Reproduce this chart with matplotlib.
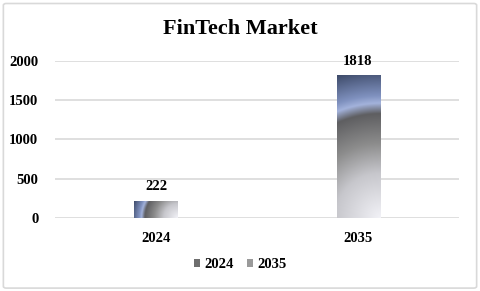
import numpy as np
from matplotlib import pyplot as plt, rcParams
from matplotlib.patches import Patch, FancyBboxPatch

rcParams['font.family'] = ['Liberation Serif', 'DejaVu Serif']
rcParams['font.weight'] = 'bold'

# 数据
categories = ['2024', '2035']
values = [222, 1818]
yticks = [0, 500, 1000, 1500, 2000]

# 渐变色标 (距离, 颜色)
stops = [(0.00, (0.95, 0.95, 0.97)),
         (0.30, (0.78, 0.78, 0.80)),
         (0.50, (0.55, 0.55, 0.55)),
         (0.70, (0.37, 0.37, 0.38)),
         (0.77, (0.64, 0.70, 0.86)),
         (0.82, (0.50, 0.57, 0.75)),
         (1.00, (0.24, 0.29, 0.41))]


def gradient(nx, ny, w_px, h_px):
    # 以右下角为中心的径向渐变
    xs = np.linspace(0, w_px, nx)
    ys = np.linspace(h_px, 0, ny)
    X, Y = np.meshgrid(xs, ys)
    d = np.sqrt((w_px - X) ** 2 + Y ** 2) / np.sqrt(w_px ** 2 + h_px ** 2)
    pos = [s[0] for s in stops]
    img = np.zeros((ny, nx, 3))
    for c in range(3):
        img[..., c] = np.interp(d, pos, [s[1][c] for s in stops])
    return img


fig = plt.figure(figsize=(4.8, 2.91), dpi=100)
fig.patches.append(FancyBboxPatch((0.007, 0.01), 0.986, 0.978, boxstyle='round,pad=0,rounding_size=0.006',
                                  transform=fig.transFigure, fill=False, edgecolor='#d9d9d9', linewidth=1.2))
ax = fig.add_axes([0.1146, 0.2509, 0.8417, 0.5395])

x = np.arange(len(categories))
bars = ax.bar(x, values, width=0.213, color='none', edgecolor='none', zorder=3)
ax.set_xlim(-0.5, 1.5)
ax.set_ylim(0, 2000)
ax.set_yticks(yticks)
ax.set_xticks(x)
ax.set_xticklabels(categories)
ax.grid(axis='y', color='#d9d9d9', linewidth=1.2, zorder=0)
ax.set_axisbelow(True)
for s in ax.spines.values():
    s.set_visible(False)
ax.tick_params(length=0, labelsize=10.5)
ax.tick_params(axis='y', pad=12)
ax.tick_params(axis='x', pad=10)

fig.canvas.draw()
for b, v in zip(bars, values):
    x0 = b.get_x()
    x1 = x0 + b.get_width()
    p0 = ax.transData.transform((x0, 0))
    p1 = ax.transData.transform((x1, v))
    w_px, h_px = p1[0] - p0[0], p1[1] - p0[1]
    img = gradient(80, max(int(80 * h_px / w_px), 4), w_px, h_px)
    im = ax.imshow(img, extent=(x0, x1, 0, v), aspect='auto', zorder=3, interpolation='bilinear')
    im.set_clip_path(b)
    ax.text(b.get_x() + b.get_width() / 2, v + 95, str(v), ha='center', va='bottom',
            fontsize=10.5, fontweight='bold', clip_on=False, zorder=4)
ax.set_xlim(-0.5, 1.5)
ax.set_ylim(0, 2000)

fig.text(0.5, 0.90, 'FinTech Market', ha='center', va='center', fontsize=16, fontweight='bold')

handles = [Patch(facecolor='#6e6e6e'), Patch(facecolor='#9a9a9a')]
fig.legend(handles, categories, loc='center', bbox_to_anchor=(0.5, 0.09), ncol=2, frameon=False,
           fontsize=10.5, handlelength=0.42, handleheight=0.42, handletextpad=0.3, columnspacing=0.9)

plt.savefig('out.png', dpi=100)
